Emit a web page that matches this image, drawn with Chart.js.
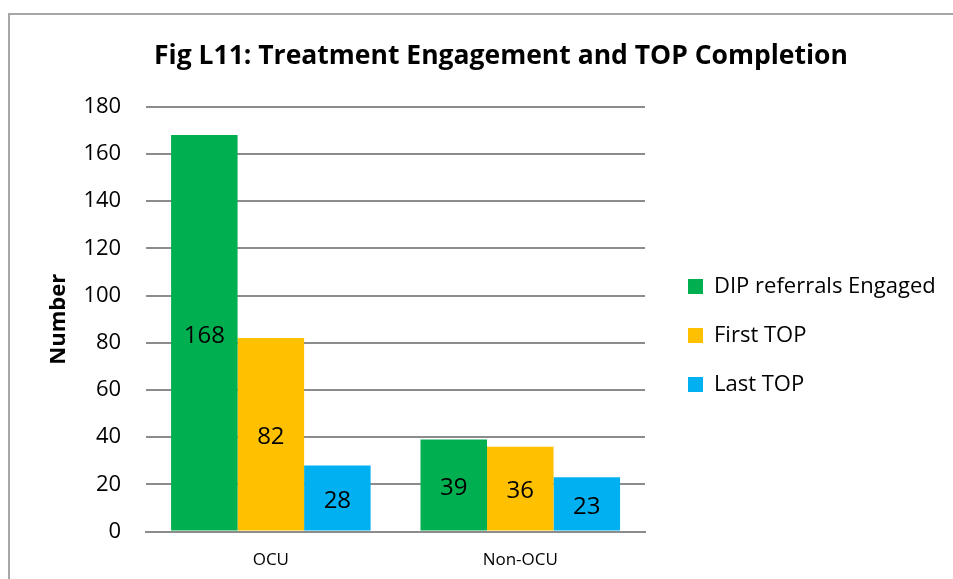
<!DOCTYPE html>
<html>
<head>
<meta charset="utf-8">
<script src="https://cdn.jsdelivr.net/npm/chart.js@4"></script>
<style>
body{margin:0;background:#fff;overflow:hidden;}
#frame{position:absolute;left:8px;top:13px;width:960px;height:600px;border:2px solid #a6a6a6;box-sizing:border-box;}
#wrap{position:absolute;left:0;top:0;width:980px;height:579px;}
</style>
</head>
<body>
<div id="frame"></div>
<div id="wrap"><canvas id="BarChart"></canvas></div>
<script>
// values
let categories=['OCU','Non-OCU']
let seriesNames=['DIP referrals Engaged','First TOP','Last TOP']
let engaged=[168,39]
let firstTop=[82,36]
let lastTop=[28,23]
let colours=['#00B050','#FFC000','#00B0F0']
let yTicks={min:0,max:180,step:20}

let fontName='"Open Sans", sans-serif'

// writes the value in the middle of each bar
let barValues={
    id:'barValues',
    afterDatasetsDraw(chart){
        let ctx=chart.ctx
        ctx.save()
        ctx.font='24px '+fontName
        ctx.fillStyle='#000'
        ctx.textAlign='center'
        ctx.textBaseline='middle'
        chart.data.datasets.forEach(function(ds,i){
            chart.getDatasetMeta(i).data.forEach(function(bar,j){
                ctx.fillText(ds.data[j],bar.x,(bar.y+bar.base)/2+3)
            })
        })
        ctx.restore()
    }
}

// legend gets a fixed width so the plot stops where the excel one does
let legendBox={
    id:'legendBox',
    beforeInit(chart){
        let lg=chart.legend
        let oldFit=lg.fit
        lg.fit=function(){
            oldFit.call(this)
            this.width=322
        }
    },
    afterLayout(chart){
        chart.legend.left+=16
        chart.legend.top+=30
        chart.legend.bottom+=30
    }
}

let allSeries=[engaged,firstTop,lastTop]
let datasets=[]
for(i in allSeries){
    datasets.push({
        label:seriesNames[i],
        data:allSeries[i],
        backgroundColor:colours[i],
        categoryPercentage:0.8,
        barPercentage:1.0
    })
}

let firstChart=document.getElementById('BarChart').getContext('2d');
let myChart=new Chart(firstChart,{
    type:'bar',
    data:{labels:categories,datasets:datasets},
    plugins:[barValues,legendBox],
    options:{
        responsive:true,
        maintainAspectRatio:false,
        animation:false,
        layout:{padding:{left:35,right:13,top:41,bottom:9}},
        plugins:{
            title:{
                display:true,
                text:'Fig L11: Treatment Engagement and TOP Completion',
                font:{family:fontName,size:26.5,weight:'bold'},
                color:'#000',
                padding:{top:0,bottom:34}
            },
            legend:{
                position:'right',
                labels:{
                    boxWidth:15,
                    boxHeight:15,
                    padding:27,
                    font:{family:fontName,size:22},
                    color:'#000'
                }
            },
            tooltip:{enabled:false}
        },
        scales:{
            x:{
                grid:{display:false,drawTicks:false},
                border:{color:'#8c8c8c',width:2},
                ticks:{font:{family:fontName,size:17},color:'#000',padding:18},
                afterFit(scale){scale.height-=18}
            },
            y:{
                min:yTicks.min,max:yTicks.max,
                grid:{color:'#8c8c8c',lineWidth:2,drawTicks:false},
                border:{display:false},
                ticks:{stepSize:yTicks.step,font:{family:fontName,size:22},color:'#000',padding:25},
                title:{display:true,text:'Number',font:{family:fontName,size:22,weight:'bold'},color:'#000',padding:11},
                afterFit(scale){scale.width-=25}
            }
        }
    }
});
</script>
</body>
</html>
